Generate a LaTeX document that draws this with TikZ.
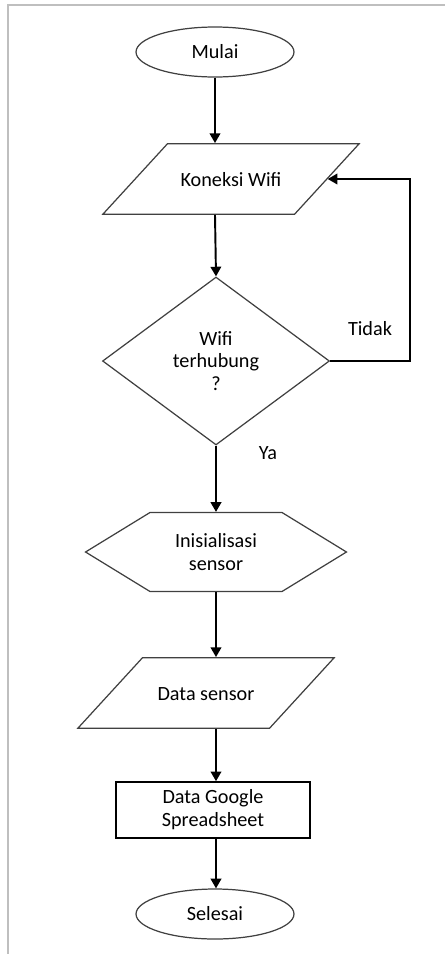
\documentclass[tikz,border=0pt]{standalone}
\usepackage{fontspec}
\setmainfont{Carlito}
\usetikzlibrary{shapes.geometric,shapes.symbols,arrows.meta}
\begin{document}
\begin{tikzpicture}[x=0.02cm, y=-0.02cm, font=\fontsize{11.5}{13}\selectfont, align=center]
    \tikzset{%
      garis/.style={draw=black!75, line width=0.7pt, fill=white, inner sep=0pt},
      terminal/.style={garis, ellipse, minimum width=3.16cm, minimum height=1cm},
      io/.style={garis, trapezium, trapezium left angle=47.5, trapezium right angle=132.5,
        text width=2.54cm, text height=24.1pt, text depth=16.1pt, align=flush center},
      keputusan/.style={garis, diamond, aspect=1.35, minimum width=4.54cm, minimum height=3.36cm},
      persiapan/.style={garis, signal, signal to=west and east, signal pointer angle=63,
        minimum width=5.22cm, minimum height=1.58cm},
      proses/.style={garis, rectangle, draw=black, line width=0.9pt, minimum width=3.88cm, minimum height=1.12cm},
      panah/.style={draw=black, line width=1.1pt, -{Triangle[width=6pt,length=5.5pt]}}
      }
    \useasboundingbox (0,0) rectangle (445,954);
    \draw [gray!50, line width=0.9pt] (445,5) -- (8,5) -- (8,954);

    \node [terminal] (mulai) at (215,52) {Mulai};
    \node [io] (koneksi) at (231,179) {Koneksi Wifi};
    \node [keputusan] (cek) at (216,361) {Wifi\\terhubung\\?};
    \node [persiapan] (inisial) at (216,552) {Inisialisasi\\sensor};
    \node [io] (data) at (206,693) {Data sensor};
    \node [proses] (kirim) at (213,810) {Data Google\\Spreadsheet};
    \node [terminal] (selesai) at (215,914) {Selesai};

    \draw [panah] (mulai.south) -- (mulai.south |- koneksi.north);
    \draw [panah] (mulai.south |- koneksi.south) -- (cek.north);
    \draw [panah] (cek.east) -- ++(80,0) |- (koneksi.east);
    \node (tidak) at (370,329) {Tidak};
    \draw [panah] (cek.south) -- (inisial.north);
    \node (ya) at (268,453) {Ya};
    \draw [panah] (inisial.south) -- (inisial.south |- data.north);
    \draw [panah] (inisial.south |- data.south) -- (inisial.south |- kirim.north);
    \draw [panah] (inisial.south |- kirim.south) -- (inisial.south |- selesai.north);
  \end{tikzpicture}
\end{document}
